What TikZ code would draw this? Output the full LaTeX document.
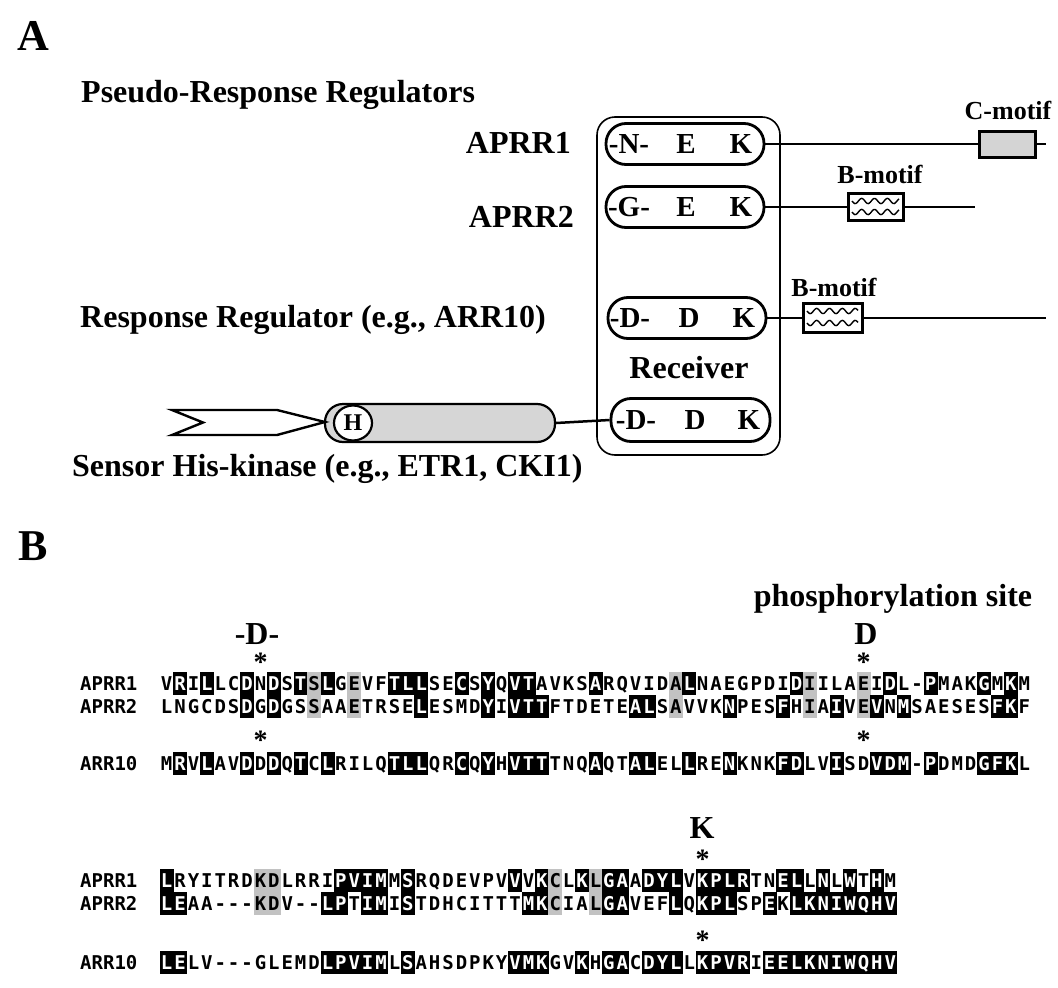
\documentclass[tikz,border=0pt]{standalone}
\usepackage{fontspec}
\setmainfont{Liberation Serif}
\newfontfamily\seqfont{DejaVu Sans Mono}
\usetikzlibrary{shapes.geometric}

\newcount\seqcol
\def\seqX{160}
\def\seqP{13.4}
\def\seqH{23}
\def\seqY{0}

\def\seqrow#1#2#3#4#5{%
  \def\seqY{#1}%
  \node[sqname, anchor=west] (#2) at (80,#1) {#3};%
  \seqcol=0
  \seqparse#4\relax#5\relax}
\def\seqparse#1#2\relax#3#4\relax{%
  \advance\seqcol by 1
  \pgfmathsetmacro\cx{\seqX+(\the\seqcol-0.5)*\seqP}%
  \if#3b\fill[black] ({\cx-\seqP/2-0.3},{\seqY-\seqH/2}) rectangle ({\cx+\seqP/2+0.3},{\seqY+\seqH/2});\node[sq,text=white] at (\cx,\seqY) {#1};%
  \else\if#3g\fill[black!24] ({\cx-\seqP/2-0.3},{\seqY-\seqH/2}) rectangle ({\cx+\seqP/2+0.3},{\seqY+\seqH/2});\fi
  \node[sq] at (\cx,\seqY) {#1};\fi
  \ifx\relax#2\relax\else\seqparse#2\relax#4\relax\fi}

\begin{document}
\begin{tikzpicture}[x=1pt,y=-1pt,
  lab/.style={font=\fontsize{32}{36}\selectfont\bfseries, inner sep=0pt, text height=21pt, text depth=0pt},
  big/.style={font=\fontsize{44}{48}\selectfont\bfseries, inner sep=0pt, text height=29pt, text depth=0pt},
  res/.style={font=\fontsize{29}{30}\selectfont\bfseries, inner sep=0pt, text height=19pt, text depth=0pt},
  motif/.style={font=\fontsize{26}{28}\selectfont\bfseries, inner sep=0pt, text height=17pt, text depth=0pt},
  pill/.style={draw, line width=2.8pt, rounded corners=20pt, minimum width=158pt, minimum height=41pt, inner sep=0pt},
  conn/.style={line width=2.5pt},
  mbox/.style={draw, line width=3pt, inner sep=0pt},
  wave/.style={line width=1.4pt},
  sq/.style={font=\seqfont\bfseries\fontsize{19}{20}\selectfont, inner sep=0pt, text height=14pt, text depth=0pt},
  sqname/.style={font=\seqfont\bfseries\fontsize{19}{20}\selectfont, inner sep=0pt, text height=14pt, text depth=0pt},
  ast/.style={font=\fontsize{28}{28}\selectfont\bfseries, inner sep=0pt, anchor=base}]
\useasboundingbox (0,0) rectangle (1058,988);

% ---------------- Part A ----------------
\node[big] (lA) at (33,36) {A};
\node[lab, anchor=west] (prr) at (81,92) {Pseudo-Response Regulators};
\node[lab, anchor=east] (l1) at (571,143) {APRR1};
\node[lab, anchor=east] (l2) at (574,217) {APRR2};
\node[lab, anchor=west] (l3) at (80,317) {Response Regulator (e.g., ARR10)};
\node[lab, anchor=west] (l4) at (72,466) {Sensor His-kinase (e.g., ETR1, CKI1)};

% receiver frame
\node[draw, line width=1.6pt, rounded corners=18pt, minimum width=183pt, minimum height=338pt, inner sep=0pt] (recv) at (688.5,286) {};
\node[lab] (rtxt) at (689,368) {Receiver};

% receiver pills
\node[pill] (p1) at (685,144) {};
\node[res] (p1a) at (629,144) {-N-};
\node[res] (p1b) at (686,144) {E};
\node[res] (p1c) at (741,144) {K};

\node[pill] (p2) at (685,207) {};
\node[res] (p2a) at (629,207) {-G-};
\node[res] (p2b) at (686,207) {E};
\node[res] (p2c) at (741,207) {K};

\node[pill] (p3) at (687,318) {};
\node[res] (p3a) at (630,318) {-D-};
\node[res] (p3b) at (689,318) {D};
\node[res] (p3c) at (744,318) {K};

\node[pill, minimum width=159pt, minimum height=43pt] (p4) at (690.5,420) {};
\node[res] (p4a) at (636,420) {-D-};
\node[res] (p4b) at (695,420) {D};
\node[res] (p4c) at (749,420) {K};

% motifs
\node[mbox, fill=black!17, minimum width=56pt, minimum height=26pt] (c1) at (1007,144) {};
\node[motif] (c1t) at (1008,111) {C-motif};
\coordinate (e1) at (1046,144);
\draw[conn] (p1.east) -- (c1.west);
\draw[conn] (c1.east) -- (e1);

\node[mbox, fill=white, minimum width=55pt, minimum height=27pt] (b2) at (875.5,207) {};
\node[motif] (b2t) at (880,175) {B-motif};
\coordinate (e2) at (975,207);
\draw[conn] (p2.east) -- (b2.west);
\draw[conn] (b2.east) -- (e2);
\draw[wave] plot[domain=852:899, samples=50, smooth] (\x,{201+2.6*sin((\x-852)*28)});
\draw[wave] plot[domain=852:899, samples=50, smooth] (\x,{212+2.6*sin((\x-852)*28)});

\node[mbox, fill=white, minimum width=59pt, minimum height=29pt] (b3) at (832.5,318) {};
\node[motif] (b3t) at (834,288) {B-motif};
\coordinate (e3) at (1046,318);
\draw[conn] (p3.east) -- (b3.west);
\draw[conn] (b3.east) -- (e3);
\draw[wave] plot[domain=807:858, samples=50, smooth] (\x,{311+2.6*sin((\x-807)*28)});
\draw[wave] plot[domain=807:858, samples=50, smooth] (\x,{323+2.6*sin((\x-807)*28)});

% sensor kinase
\node[draw, line width=2.2pt, fill=black!16, rounded corners=18pt, minimum width=230pt, minimum height=38pt, inner sep=0pt] (cyl) at (440,423) {};
\draw[line width=2.4pt, fill=white, line join=miter] (172,410) -- (277,410) -- (325,422) -- (277,435) -- (172,435) -- (203,422.5) -- cycle;
\node[draw, line width=2.2pt, fill=white, ellipse, minimum width=38pt, minimum height=35pt, inner sep=0pt, font=\fontsize{24}{24}\selectfont\bfseries] (hk) at (353,423) {H};
\draw[conn] (cyl.east) -- (p4.west);

% ---------------- Part B ----------------
\node[big] (lB) at (33,546) {B};
\node[lab] (phos) at (893,596) {phosphorylation site};
\node[lab] (dD) at (257,634) {-D-};
\node[lab] (dE) at (866,634) {D};
\node[ast] (a1) at (260.5,671) {*};
\node[ast] (a2) at (863.5,671) {*};

\seqrow{683}{r1a}{APRR1}{VRILLCDNDS TSLGEVFTLL SECSYQVTAV KSARQVIDAL NAEGPDIDII LAEIDL-PMA KGMKM}{.b.b..b.b. bgb.g..bbb ..b.b.bb.. ..b.....gb .......bg. ..g.b..b.. .b.b.}
\seqrow{706}{r1b}{APRR2}{LNGCDSDGDG SSAAETRSEL ESMDYIVTTF TDETEALSAV VKNPESFHIA IVEVNMSAES ESFKF}{......b.b. .g..g....b ....b.bbb. .....bb.g. ..b...b.g. b.gb.b.... ..bb.}
\node[ast] (a3) at (260.5,749) {*};
\node[ast] (a4) at (863.5,749) {*};
\seqrow{763}{r1c}{ARR10}{MRVLAVDDDQ TCLRILQTLL QRCQYHVTTT NQAQTALELL RENKNKFDLV ISDVDM-PDM DGFKL}{.b.b..b.b. b.b....bbb ..b.b.bbb. ..b..bb..b ..b...bb.. b..bbb.b.. .bbb.}

\node[lab] (dK) at (702,828) {K};
\node[ast] (a5) at (702.7,868) {*};
\seqrow{880}{r2a}{APRR1}{LRYITRDKDL RRIPVIMMSR QDEVPVVVKC LKLGAADYLV KPLRTNELLN LWTHM}{b......gg. ...bbbb.b. ......b.bg .bgbb.bbb. bbbb..bb.b .b.b.}
\seqrow{903}{r2b}{APRR2}{LEAA---KDV --LPTIMIST DHCITTTMKC IALGAVEFLQ KPLSPEKLKN IWQHV}{bb.....gg. ..bb.bb.b. .......bbg ..gbb...b. bbb..b.bbb bbbbb}
\node[ast] (a6) at (702.7,949) {*};
\seqrow{962}{r2c}{ARR10}{LELV---GLE MDLPVIMLSA HSDPKYVMKG VKHGACDYLL KPVRIEELKN IWQHV}{bb........ ..bbbbb.b. ......bbb. .b.bb.bbb. bbbb.bbbbb bbbbb}
\end{tikzpicture}
\end{document}
